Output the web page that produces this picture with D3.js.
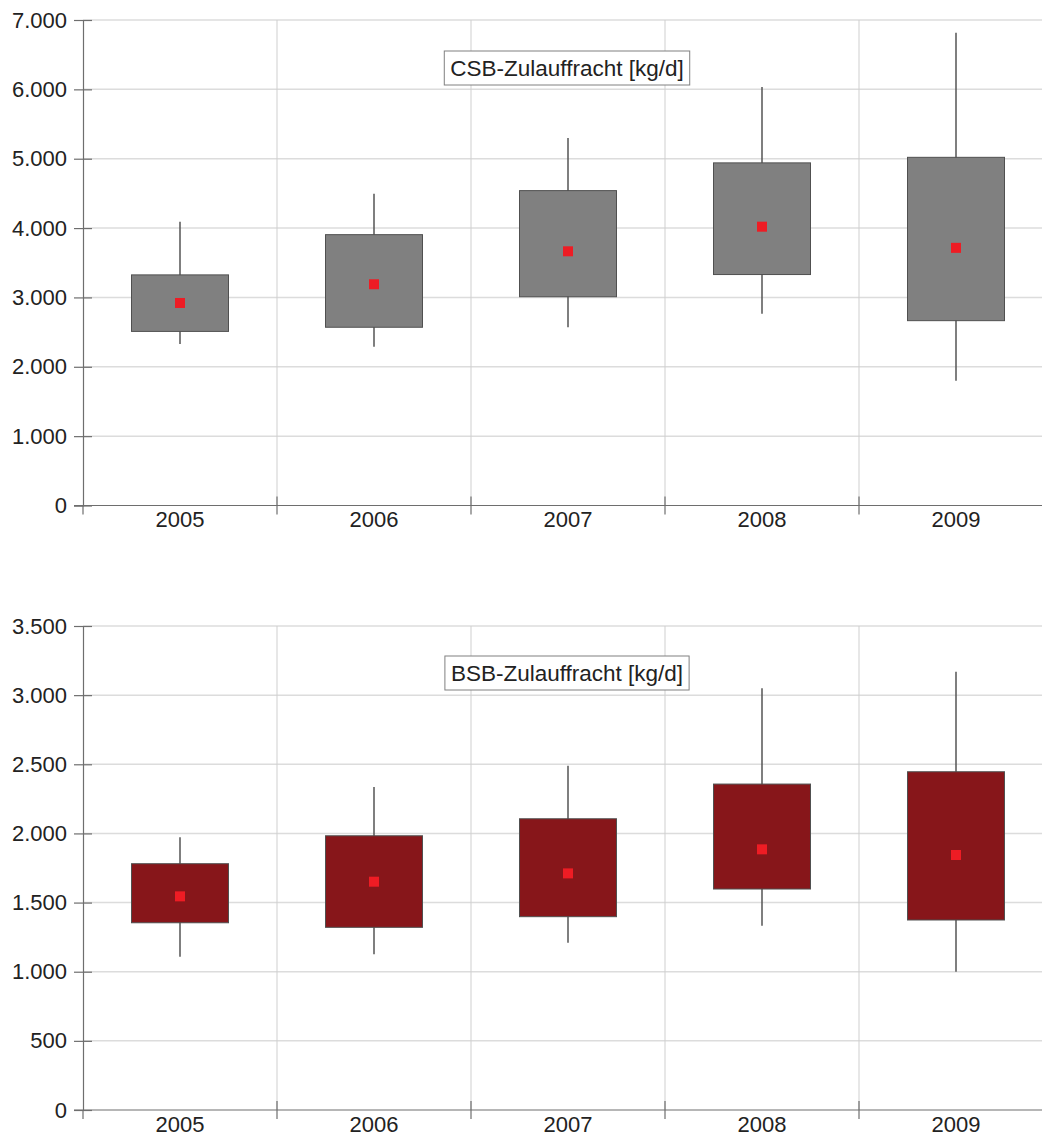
<!DOCTYPE html>
<html>
<head>
<meta charset="utf-8">
<script src="https://cdn.jsdelivr.net/npm/d3@7"></script>
<style>
  html, body { margin: 0; padding: 0; background: #fff; }
  svg { display: block; font-family: "Liberation Sans", Arial, sans-serif; }
</style>
</head>
<body>
<svg id="chart" width="1042" height="1138"></svg>
<script>
// Years on the category axis
const years = ["2005", "2006", "2007", "2008", "2009"];

// CSB inflow load [kg/d]: whisker min/max, box lower/upper, mean
const csbMin   = [2330, 2290, 2570, 2765, 1800];
const csbQ1    = [2510, 2570, 3010, 3330, 2665];
const csbQ3    = [3325, 3905, 4540, 4940, 5020];
const csbMax   = [4090, 4495, 5300, 6035, 6815];
const csbMean  = [2920, 3190, 3665, 4020, 3715];
const csbTicks = [0, 1000, 2000, 3000, 4000, 5000, 6000, 7000];

// BSB inflow load [kg/d]
const bsbMin   = [1108, 1126, 1210, 1333, 1000];
const bsbQ1    = [1354, 1321, 1398, 1598, 1374];
const bsbQ3    = [1781, 1983, 2106, 2357, 2446];
const bsbMax   = [1972, 2335, 2490, 3049, 3169];
const bsbMean  = [1545, 1651, 1711, 1885, 1844];
const bsbTicks = [0, 500, 1000, 1500, 2000, 2500, 3000, 3500];

const panels = [
  { title: "CSB-Zulauffracht [kg/d]", top: 20, bottom: 505.5, max: 7000,
    ticks: csbTicks, min: csbMin, q1: csbQ1, q3: csbQ3, maxv: csbMax, mean: csbMean,
    fill: "#808080", titleY: 51 },
  { title: "BSB-Zulauffracht [kg/d]", top: 626, bottom: 1110, max: 3500,
    ticks: bsbTicks, min: bsbMin, q1: bsbQ1, q3: bsbQ3, maxv: bsbMax, mean: bsbMean,
    fill: "#87161a", titleY: 656 }
];

const svg = d3.select("#chart");
const left = 83, right = 1053;
const fmt = d3.format(",");
const deNum = v => fmt(v).replace(/,/g, ".");

panels.forEach(p => {
  const g = svg.append("g");
  const x = d3.scaleBand().domain(years).range([left, right]).padding(0);
  const y = d3.scaleLinear().domain([0, p.max]).range([p.bottom, p.top]);
  const bw = x.bandwidth();

  // horizontal gridlines
  g.append("g").selectAll("line").data(p.ticks.filter(t => t > 0)).join("line")
    .attr("x1", left).attr("x2", right)
    .attr("y1", d => y(d)).attr("y2", d => y(d))
    .attr("stroke", "#dcdcdc").attr("stroke-width", 1.5);

  // vertical gridlines at category boundaries
  const bounds = years.slice(1).map(d => x(d));
  g.append("g").selectAll("line").data(bounds).join("line")
    .attr("x1", d => d).attr("x2", d => d)
    .attr("y1", p.top).attr("y2", p.bottom)
    .attr("stroke", "#cfcfcf").attr("stroke-width", 1);

  // y axis
  const yAxis = d3.axisLeft(y).tickValues(p.ticks).tickFormat(deNum).tickSize(9).tickPadding(7);
  const ya = g.append("g").attr("transform", `translate(${left},0)`).call(yAxis);
  ya.select(".domain").attr("stroke", "#6e6e6e").attr("stroke-width", 1.2);
  ya.selectAll(".tick line").attr("x1", 9).attr("x2", -9).attr("stroke", "#6e6e6e").attr("stroke-width", 1.2);
  ya.selectAll(".tick text").attr("font-size", 22).attr("fill", "#222")
    .attr("font-family", "'Liberation Sans', Arial, sans-serif");

  // x axis: labels centred in bands, ticks at boundaries
  const xAxis = d3.axisBottom(x).tickSize(0).tickPadding(6);
  const xa = g.append("g").attr("transform", `translate(0,${p.bottom})`).call(xAxis);
  xa.select(".domain").remove();
  xa.selectAll(".tick text").attr("font-size", 22).attr("fill", "#222")
    .attr("font-family", "'Liberation Sans', Arial, sans-serif");
  g.append("line").attr("x1", left - 9).attr("x2", right)
    .attr("y1", p.bottom).attr("y2", p.bottom)
    .attr("stroke", "#6e6e6e").attr("stroke-width", 1.2);
  g.append("g").selectAll("line").data([left].concat(bounds)).join("line")
    .attr("x1", d => d).attr("x2", d => d)
    .attr("y1", (d, i) => i === 0 ? p.bottom : p.bottom - 9)
    .attr("y2", p.bottom + 9)
    .attr("stroke", "#6e6e6e").attr("stroke-width", 1.2);

  // whiskers
  const boxes = g.append("g").selectAll("g").data(years).join("g");
  boxes.append("line")
    .attr("x1", d => x(d) + bw / 2).attr("x2", d => x(d) + bw / 2)
    .attr("y1", (d, i) => y(p.maxv[i])).attr("y2", (d, i) => y(p.min[i]))
    .attr("stroke", "#555").attr("stroke-width", 1.5);
  // boxes
  boxes.append("rect")
    .attr("x", d => x(d) + bw / 4).attr("width", bw / 2)
    .attr("y", (d, i) => y(p.q3[i]))
    .attr("height", (d, i) => y(p.q1[i]) - y(p.q3[i]))
    .attr("fill", p.fill).attr("stroke", "#505050").attr("stroke-width", 1);
  // mean markers
  const ms = 10;
  boxes.append("rect")
    .attr("x", d => x(d) + bw / 2 - ms / 2).attr("width", ms)
    .attr("y", (d, i) => y(p.mean[i]) - ms / 2).attr("height", ms)
    .attr("fill", "#ee1c24");

  // title label box
  const tg = g.append("g");
  const tt = tg.append("text").attr("x", 567).attr("y", p.titleY + 25)
    .attr("text-anchor", "middle").attr("font-size", 22.5).attr("fill", "#222")
    .text(p.title);
  const bb = tt.node().getBBox();
  tg.insert("rect", "text")
    .attr("x", bb.x - 6).attr("y", p.titleY)
    .attr("width", bb.width + 12).attr("height", 34)
    .attr("fill", "#fff").attr("stroke", "#808080").attr("stroke-width", 1);
});
</script>
</body>
</html>
